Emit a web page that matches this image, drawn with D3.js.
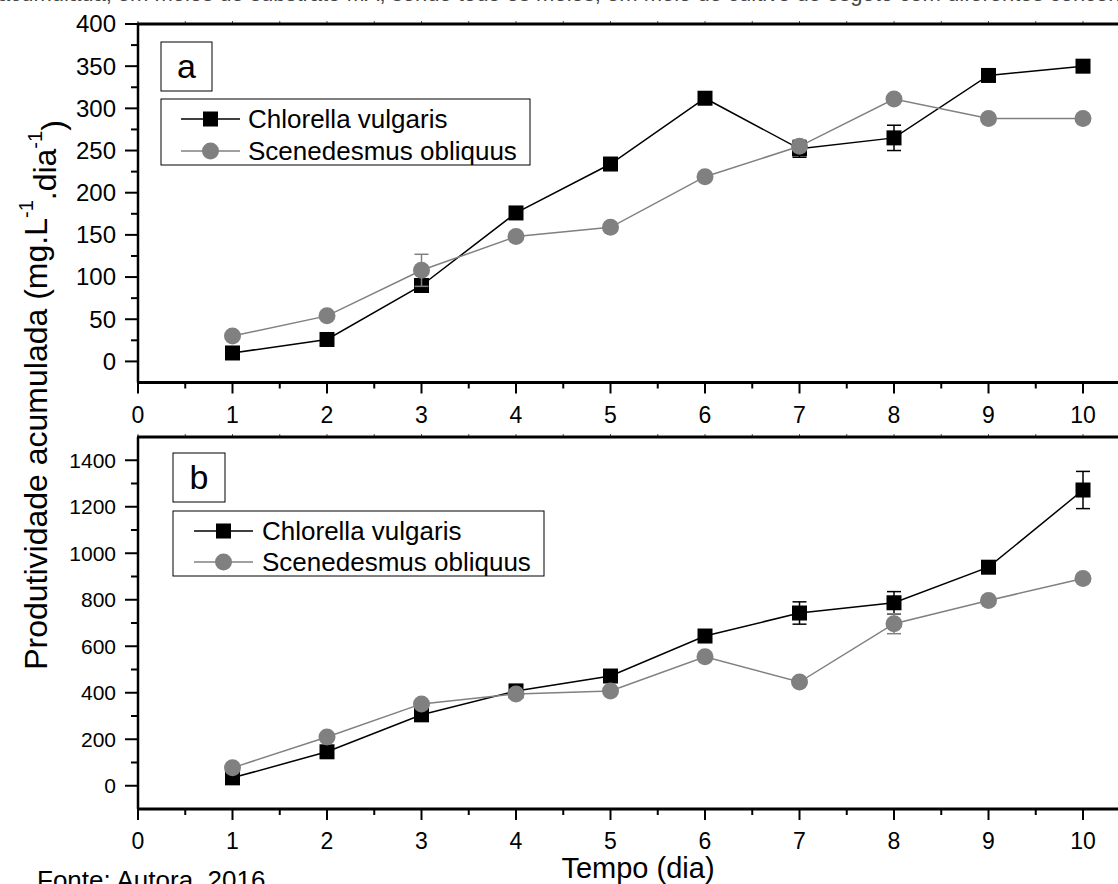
<!DOCTYPE html>
<html>
<head>
<meta charset="utf-8">
<script src="https://cdn.jsdelivr.net/npm/d3@7"></script>
<style>
  body { margin: 0; background: #fff; overflow: hidden; }
  text { font-family: "Liberation Sans", Arial, sans-serif; fill: #000; }
</style>
</head>
<body>
<svg id="chart" width="1118" height="884"></svg>
<script>
// Data
const days = [1, 2, 3, 4, 5, 6, 7, 8, 9, 10];
const seriesNames = ["Chlorella vulgaris", "Scenedesmus obliquus"];

// Panel a
const chlorellaA = [10, 26, 90, 176, 234, 312, 252, 265, 339, 350];
const chlorellaAErr = [0, 0, 5, 0, 0, 0, 10, 15, 0, 0];
const scenedesmusA = [30, 54, 108, 148, 159, 219, 255, 311, 288, 288];
const scenedesmusAErr = [0, 0, 19, 0, 0, 0, 0, 0, 0, 0];

// Panel b
const chlorellaB = [34, 146, 305, 408, 472, 644, 743, 787, 940, 1272];
const chlorellaBErr = [0, 0, 0, 0, 0, 0, 48, 48, 0, 80];
const scenedesmusB = [77, 210, 352, 395, 408, 555, 446, 697, 797, 891];
const scenedesmusBErr = [0, 0, 0, 0, 0, 0, 0, 43, 0, 0];

const xTicks = [0, 1, 2, 3, 4, 5, 6, 7, 8, 9, 10];
const yTicksA = [0, 50, 100, 150, 200, 250, 300, 350, 400];
const yTicksB = [0, 200, 400, 600, 800, 1000, 1200, 1400];

const svg = d3.select("#chart");

// Shared x scale
const x = d3.scaleLinear().domain([0, 10.45]).range([138, 138 + 10.45 * 94.5]);

const panels = [
  { label: "a", top: 24, bottom: 382.5, domain: [-25, 400], ticks: yTicksA, minorStep: 25, yFont: 24,
    c: chlorellaA, cErr: chlorellaAErr, s: scenedesmusA, sErr: scenedesmusAErr,
    box: [161, 42, 51, 49], legend: [161, 99, 369, 66], legendRow: [119, 151], lineX: [181, 240], textX: 248 },
  { label: "b", top: 437, bottom: 809, domain: [-100, 1500], ticks: yTicksB, minorStep: 100, yFont: 21,
    c: chlorellaB, cErr: chlorellaBErr, s: scenedesmusB, sErr: scenedesmusBErr,
    box: [173, 453, 52, 49], legend: [173, 511, 371, 65], legendRow: [531, 562], lineX: [194, 253], textX: 262 }
];

// Top caption (cut off by the page edge)
svg.append("text")
  .attr("x", -2).attr("y", 0.5)
  .style("font-size", "22px")
  .style("fill", "#444")
  .text("acumulada, em meios de substrato MA, sendo todo os meios, em meio de cultivo de esgoto com diferentes concentrações");

panels.forEach(p => {
  const y = d3.scaleLinear().domain(p.domain).range([p.bottom, p.top]);
  const g = svg.append("g");

  // Minor ticks on left axis
  const minorY = d3.range(p.domain[0] + p.minorStep, p.domain[1], p.minorStep)
    .filter(v => !p.ticks.includes(v));
  g.selectAll(".ym").data(minorY).enter().append("line")
    .attr("x1", 131).attr("x2", 138)
    .attr("y1", d => y(d)).attr("y2", d => y(d))
    .attr("stroke", "#000").attr("stroke-width", 2);

  // Major ticks + labels
  g.selectAll(".yM").data(p.ticks).enter().append("line")
    .attr("x1", 125).attr("x2", 138)
    .attr("y1", d => y(d)).attr("y2", d => y(d))
    .attr("stroke", "#000").attr("stroke-width", 2);
  g.selectAll(".yl").data(p.ticks).enter().append("text")
    .attr("x", 116).attr("y", d => y(d))
    .attr("dy", "0.35em")
    .attr("text-anchor", "end")
    .style("font-size", p.yFont + "px")
    .text(d => d);

  // Minor x ticks
  const minorX = d3.range(0.5, 10.5, 1);
  g.selectAll(".xm").data(minorX).enter().append("line")
    .attr("x1", d => x(d)).attr("x2", d => x(d))
    .attr("y1", p.bottom).attr("y2", p.bottom + 6)
    .attr("stroke", "#000").attr("stroke-width", 2);
  g.selectAll(".xM").data(xTicks).enter().append("line")
    .attr("x1", d => x(d)).attr("x2", d => x(d))
    .attr("y1", p.bottom).attr("y2", p.bottom + 11)
    .attr("stroke", "#000").attr("stroke-width", 2);
  g.selectAll(".xl").data(xTicks).enter().append("text")
    .attr("x", d => x(d)).attr("y", p.bottom + 32)
    .attr("dy", "0.35em")
    .attr("text-anchor", "middle")
    .style("font-size", "23px")
    .text(d => d);

  // faint inward ticks on the top border
  g.selectAll(".xt").data(minorX.concat(xTicks)).enter().append("line")
    .attr("x1", d => x(d)).attr("x2", d => x(d))
    .attr("y1", p.top).attr("y2", p.top - 3)
    .attr("stroke", "#555").attr("stroke-width", 1);

  // Frame
  g.append("line").attr("x1", 137).attr("x2", 1118)
    .attr("y1", p.top).attr("y2", p.top).attr("stroke", "#000").attr("stroke-width", 3);
  g.append("line").attr("x1", 137).attr("x2", 1118)
    .attr("y1", p.bottom).attr("y2", p.bottom).attr("stroke", "#000").attr("stroke-width", 3);
  g.append("line").attr("x1", 138).attr("x2", 138)
    .attr("y1", p.top).attr("y2", p.bottom).attr("stroke", "#000").attr("stroke-width", 2.5);

  // Series
  const series = [
    { vals: p.c, err: p.cErr, color: "#000", shape: "square" },
    { vals: p.s, err: p.sErr, color: "#808080", shape: "circle" }
  ];
  const line = d3.line().x(d => x(d[0])).y(d => y(d[1]));

  series.forEach(s => {
    const pts = days.map((d, i) => [d, s.vals[i], s.err[i]]);
    g.append("path").datum(pts)
      .attr("d", line)
      .attr("fill", "none")
      .attr("stroke", s.color)
      .attr("stroke-width", 1.5);

    const eb = pts.filter(d => d[2] > 0);
    eb.forEach(d => {
      const cx = x(d[0]);
      g.append("line").attr("x1", cx).attr("x2", cx)
        .attr("y1", y(d[1] - d[2])).attr("y2", y(d[1] + d[2]))
        .attr("stroke", s.color).attr("stroke-width", 1.5);
      [d[1] - d[2], d[1] + d[2]].forEach(v => {
        g.append("line").attr("x1", cx - 7).attr("x2", cx + 7)
          .attr("y1", y(v)).attr("y2", y(v))
          .attr("stroke", s.color).attr("stroke-width", 1.5);
      });
    });

    if (s.shape === "square") {
      g.selectAll(null).data(pts).enter().append("rect")
        .attr("x", d => x(d[0]) - 7.5).attr("y", d => y(d[1]) - 7.5)
        .attr("width", 15).attr("height", 15)
        .attr("fill", s.color);
    } else {
      g.selectAll(null).data(pts).enter().append("circle")
        .attr("cx", d => x(d[0])).attr("cy", d => y(d[1]))
        .attr("r", 8.5)
        .attr("fill", s.color);
    }
  });

  // Panel label box
  g.append("rect")
    .attr("x", p.box[0]).attr("y", p.box[1]).attr("width", p.box[2]).attr("height", p.box[3])
    .attr("fill", "#fff").attr("stroke", "#000").attr("stroke-width", 1);
  g.append("text")
    .attr("x", p.box[0] + p.box[2] / 2).attr("y", p.box[1] + p.box[3] / 2)
    .attr("dy", "0.35em").attr("text-anchor", "middle")
    .style("font-size", "34px")
    .text(p.label);

  // Legend
  g.append("rect")
    .attr("x", p.legend[0]).attr("y", p.legend[1]).attr("width", p.legend[2]).attr("height", p.legend[3])
    .attr("fill", "#fff").attr("stroke", "#000").attr("stroke-width", 1);
  series.forEach((s, i) => {
    const ly = p.legendRow[i];
    const mx = (p.lineX[0] + p.lineX[1]) / 2;
    g.append("line").attr("x1", p.lineX[0]).attr("x2", p.lineX[1])
      .attr("y1", ly).attr("y2", ly).attr("stroke", s.color).attr("stroke-width", 1.5);
    if (s.shape === "square") {
      g.append("rect").attr("x", mx - 7.5).attr("y", ly - 7.5)
        .attr("width", 15).attr("height", 15).attr("fill", s.color);
    } else {
      g.append("circle").attr("cx", mx).attr("cy", ly).attr("r", 8.5).attr("fill", s.color);
    }
    g.append("text")
      .attr("x", p.textX).attr("y", ly).attr("dy", "0.35em")
      .style("font-size", "26px")
      .text(seriesNames[i]);
  });
});

// Axis titles
svg.append("text")
  .attr("x", 638).attr("y", 878)
  .attr("text-anchor", "middle")
  .style("font-size", "29px")
  .text("Tempo (dia)");

const yTitle = svg.append("text")
  .attr("transform", "translate(36,395) rotate(-90)")
  .attr("dy", "0.35em")
  .attr("text-anchor", "middle")
  .style("font-size", "32px");
yTitle.append("tspan").text("Produtividade acumulada (mg.L");
yTitle.append("tspan").attr("dy", "-0.7em").style("font-size", "20px").text("-1");
yTitle.append("tspan").attr("dy", "0.7em").text(".dia");
yTitle.append("tspan").attr("dy", "-0.7em").style("font-size", "20px").text("-1");
yTitle.append("tspan").attr("dy", "0.7em").text(")");

// Source note
svg.append("text")
  .attr("x", 37).attr("y", 889)
  .style("font-size", "26px")
  .text("Fonte: Autora, 2016");
</script>
</body>
</html>
